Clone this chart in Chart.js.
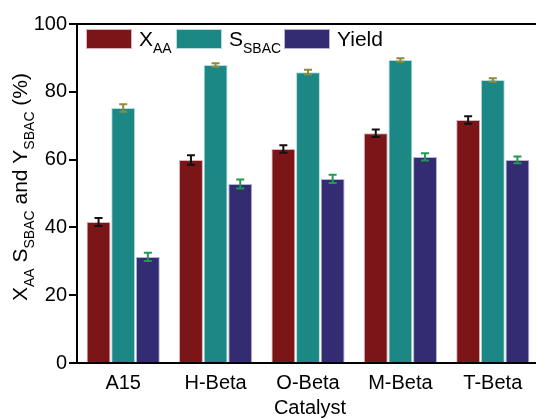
<!DOCTYPE html>
<html lang="en">
<head>
<meta charset="UTF-8">
<title>Catalyst performance</title>
<script src="https://cdn.jsdelivr.net/npm/chart.js"></script>
<style>
  html, body { margin: 0; padding: 0; background: #fff; overflow: hidden; }
  #wrap { width: 540px; height: 419px; }
</style>
</head>
<body>
<div id="wrap"><canvas id="chart"></canvas></div>
<script>
    // data
    const catalysts = ['A15', 'H-Beta', 'O-Beta', 'M-Beta', 'T-Beta'];
    const xAA = [41.6, 59.9, 63.1, 67.8, 71.7];
    const xAAErr = [1.2, 1.4, 1.1, 1.1, 1.1];
    const sSBAC = [75.2, 87.9, 85.8, 89.4, 83.5];
    const sSBACErr = [1.1, 0.5, 0.7, 0.5, 0.5];
    const ySBAC = [31.3, 52.8, 54.3, 60.8, 59.9];
    const ySBACErr = [1.2, 1.3, 1.2, 1.1, 1.0];
    const yTicks = [0, 20, 40, 60, 80, 100];

    const FONT = '"Liberation Sans", Arial, sans-serif';

    // error bars drawn on top of each bar
    const errorBars = {
        id: 'errorBars',
        afterDatasetsDraw(chart) {
            const ctx = chart.ctx;
            const yScale = chart.scales.y;
            chart.data.datasets.forEach((ds, i) => {
                const meta = chart.getDatasetMeta(i);
                ctx.save();
                ctx.strokeStyle = ds.errColor;
                ctx.lineWidth = 2;
                meta.data.forEach((bar, j) => {
                    const v = ds.data[j], e = ds.errors[j];
                    const yTop = yScale.getPixelForValue(v + e);
                    const yBot = yScale.getPixelForValue(v - e);
                    ctx.beginPath();
                    ctx.moveTo(bar.x, yTop); ctx.lineTo(bar.x, yBot);
                    ctx.moveTo(bar.x - 4, yTop); ctx.lineTo(bar.x + 4, yTop);
                    ctx.moveTo(bar.x - 4, yBot); ctx.lineTo(bar.x + 4, yBot);
                    ctx.stroke();
                });
                ctx.restore();
            });
        }
    };

    // text with a subscript: parts = [[text, isSub], ...]
    function drawParts(ctx, parts, x, y, size, subSize) {
        parts.forEach(([t, sub]) => {
            ctx.font = (sub ? subSize : size) + 'px ' + FONT;
            ctx.fillText(t, x, sub ? y + size * 0.35 : y);
            x += ctx.measureText(t).width;
        });
        return x;
    }
    function partsWidth(ctx, parts, size, subSize) {
        let w = 0;
        parts.forEach(([t, sub]) => {
            ctx.font = (sub ? subSize : size) + 'px ' + FONT;
            w += ctx.measureText(t).width;
        });
        return w;
    }

    // legend, axis titles and top frame line
    const decorations = {
        id: 'decorations',
        afterDraw(chart) {
            const ctx = chart.ctx;
            const a = chart.chartArea;
            ctx.save();

            ctx.strokeStyle = '#000';
            ctx.lineWidth = 2;
            ctx.beginPath();
            ctx.moveTo(a.left, a.top); ctx.lineTo(a.right, a.top);
            ctx.stroke();

            // legend
            const labels = [
                [['X', false], ['AA', true]],
                [['S', false], ['SBAC', true]],
                [['Yield', false]]
            ];
            const boxX = [a.left + 9, a.left + 99, a.left + 207];
            ctx.textBaseline = 'alphabetic';
            labels.forEach((parts, i) => {
                const ds = chart.data.datasets[i];
                ctx.fillStyle = ds.backgroundColor;
                ctx.fillRect(boxX[i], 29, 46, 20);
                ctx.strokeStyle = ds.borderColor;
                ctx.lineWidth = 1;
                ctx.strokeRect(boxX[i] + 0.5, 29.5, 45, 19);
                ctx.fillStyle = '#000';
                drawParts(ctx, parts, boxX[i] + 53, 46, 21, 14);
            });

            // x title
            ctx.font = '20px ' + FONT;
            ctx.textAlign = 'center';
            ctx.fillText('Catalyst', (a.left + a.right) / 2 + 2, 414);
            ctx.textAlign = 'left';

            // rotated y title
            const title = [['X', false], ['AA', true], [' S', false], ['SBAC', true],
                           [' and Y', false], ['SBAC', true], [' (%)', false]];
            const w = partsWidth(ctx, title, 21, 14);
            ctx.translate(27, 187);
            ctx.rotate(-Math.PI / 2);
            drawParts(ctx, title, -w / 2, 0, 21, 14);
            ctx.restore();
        }
    };

    new Chart(document.getElementById('chart'), {
        type: 'bar',
        data: {
            labels: catalysts,
            datasets: [
                { label: 'XAA', data: xAA, errors: xAAErr, errColor: '#111',
                  backgroundColor: '#7b1518', borderColor: '#d9b3b8', borderWidth: 1 },
                { label: 'SSBAC', data: sSBAC, errors: sSBACErr, errColor: '#8c8a3c',
                  backgroundColor: '#1b8886', borderColor: '#b5dedc', borderWidth: 1 },
                { label: 'Yield', data: ySBAC, errors: ySBACErr, errColor: '#1f9a4e',
                  backgroundColor: '#332c72', borderColor: '#b7b3d6', borderWidth: 1 }
            ]
        },
        options: {
            responsive: true,
            maintainAspectRatio: false,
            animation: false,
            layout: { padding: { left: 0, top: 24, right: 1, bottom: 0 } },
            plugins: {
                legend: { display: false },
                tooltip: { enabled: false }
            },
            datasets: { bar: { categoryPercentage: 0.8, barPercentage: 0.97 } },
            scales: {
                x: {
                    grid: { display: false, drawTicks: false },
                    border: { color: '#000', width: 2 },
                    ticks: { color: '#000', font: { family: FONT, size: 20 }, padding: 8, maxRotation: 0 },
                    afterFit(s) { s.height = 56; }
                },
                y: {
                    min: 0, max: 100,
                    afterBuildTicks(s) { s.ticks = yTicks.map(v => ({ value: v })); },
                    grid: { drawOnChartArea: false, tickLength: 8, color: '#000', lineWidth: 2 },
                    border: { color: '#000', width: 2 },
                    ticks: { color: '#000', font: { family: FONT, size: 20 }, padding: 2 },
                    afterFit(s) { s.width = 77; }
                }
            }
        },
        plugins: [errorBars, decorations]
    });
</script>
</body>
</html>
